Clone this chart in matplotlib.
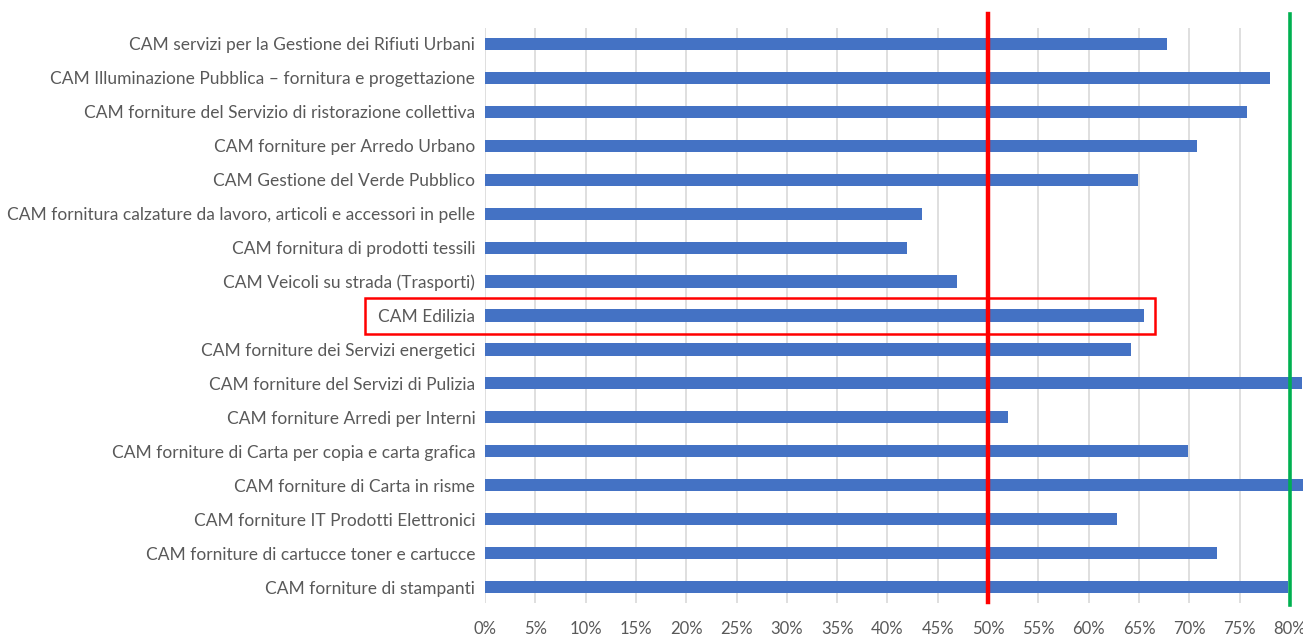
import matplotlib.pyplot as plt
from matplotlib.patches import Rectangle
from matplotlib.ticker import FuncFormatter

categories = [
    "CAM servizi per la Gestione dei Rifiuti Urbani",
    "CAM Illuminazione Pubblica \u2013 fornitura e progettazione",
    "CAM forniture del Servizio di ristorazione collettiva",
    "CAM forniture per Arredo Urbano",
    "CAM Gestione del Verde Pubblico",
    "CAM fornitura calzature da lavoro, articoli e accessori in pelle",
    "CAM fornitura di prodotti tessili",
    "CAM Veicoli su strada (Trasporti)",
    "CAM Edilizia",
    "CAM forniture dei Servizi energetici",
    "CAM forniture del Servizi di Pulizia",
    "CAM forniture Arredi per Interni",
    "CAM forniture di Carta per copia e carta grafica",
    "CAM forniture di Carta in risme",
    "CAM forniture IT Prodotti Elettronici",
    "CAM forniture di cartucce toner e cartucce",
    "CAM forniture di stampanti",
]
values = [67.8, 78.0, 75.7, 70.8, 64.9, 43.4, 41.9, 46.9, 65.5, 64.2,
          81.2, 52.0, 69.9, 84.0, 62.8, 72.8, 79.8]
xticks = list(range(0, 85, 5))
threshold_low = 50
threshold_high = 80
highlight = "CAM Edilizia"

plt.rcParams['font.family'] = ['Lato', 'DejaVu Sans']

fig = plt.figure(figsize=(13.03, 6.35), dpi=100)
ax = fig.add_axes([485 / 1303, 1 - 603 / 635, 1 - 485 / 1303, (603 - 28) / 635])

ypos = list(range(len(categories)))
ax.barh(ypos, values, height=0.36, color='#4472C4', zorder=2)

ax.set_xlim(0, 81.3)
ax.set_ylim(len(categories) - 0.53, -0.47)
ax.set_yticks(ypos)
ax.set_yticklabels(categories, fontsize=12.5, color='#595959')
ax.set_xticks(xticks)
ax.xaxis.set_major_formatter(FuncFormatter(lambda v, p: f'{v:.0f}%'))
ax.tick_params(axis='x', labelsize=12, labelcolor='#595959', length=0, pad=13)
ax.tick_params(axis='y', length=0, pad=7)
ax.grid(axis='x', color='#D9D9D9', linewidth=1.2, zorder=0)
for s in ax.spines.values():
    s.set_visible(False)

# threshold lines, sticking out above the plot area
ax.plot([threshold_low, threshold_low], [-0.88, len(categories) - 0.55],
        color='#FF0000', linewidth=3.2, clip_on=False, zorder=3)
ax.plot([threshold_high, threshold_high], [-0.88, len(categories) - 0.47],
        color='#00B050', linewidth=2.6, clip_on=False, zorder=3)

# box around the highlighted row
i = categories.index(highlight)
ax.add_patch(Rectangle((-11.9, i - 0.52), 78.5, 1.07, fill=False,
                       edgecolor='#FF0000', linewidth=1.8, clip_on=False, zorder=4))

fig.savefig('out.png', dpi=100)
